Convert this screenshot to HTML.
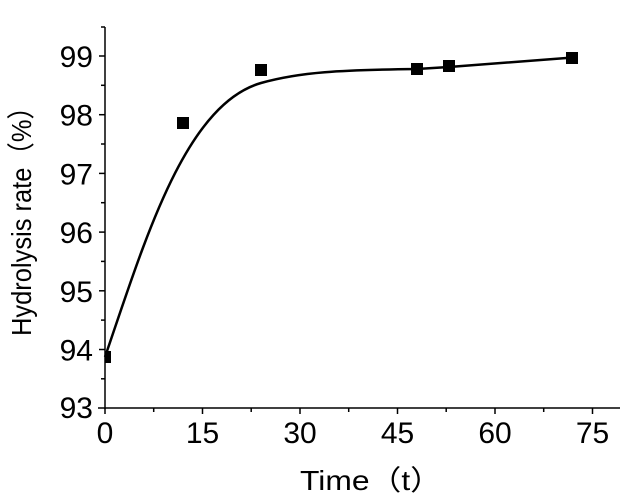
<!DOCTYPE html>
<html><head><style>body{margin:0;background:#fff}</style></head><body>
<svg width="621" height="498" xmlns="http://www.w3.org/2000/svg" font-family="Liberation Sans, Noto Sans CJK SC, sans-serif">
<g stroke="#000" stroke-width="1.5" fill="none">
<line x1="105" y1="27" x2="105" y2="409"/>
<line x1="98" y1="408" x2="620" y2="408"/>
<line x1="99" y1="56" x2="105" y2="56"/><line x1="99" y1="114.7" x2="105" y2="114.7"/><line x1="99" y1="173.4" x2="105" y2="173.4"/><line x1="99" y1="232.1" x2="105" y2="232.1"/><line x1="99" y1="290.8" x2="105" y2="290.8"/><line x1="99" y1="349.5" x2="105" y2="349.5"/>
<line x1="101" y1="27" x2="105" y2="27"/><line x1="101" y1="85.3" x2="105" y2="85.3"/><line x1="101" y1="144" x2="105" y2="144"/><line x1="101" y1="202.7" x2="105" y2="202.7"/><line x1="101" y1="261.4" x2="105" y2="261.4"/><line x1="101" y1="320.1" x2="105" y2="320.1"/><line x1="101" y1="378.8" x2="105" y2="378.8"/>
<line x1="105" y1="408" x2="105" y2="414"/><line x1="202.5" y1="408" x2="202.5" y2="414"/><line x1="300" y1="408" x2="300" y2="414"/><line x1="397.5" y1="408" x2="397.5" y2="414"/><line x1="495" y1="408" x2="495" y2="414"/><line x1="592.5" y1="408" x2="592.5" y2="414"/>
<line x1="153.7" y1="408" x2="153.7" y2="412"/><line x1="251.2" y1="408" x2="251.2" y2="412"/><line x1="348.7" y1="408" x2="348.7" y2="412"/><line x1="446.2" y1="408" x2="446.2" y2="412"/><line x1="543.7" y1="408" x2="543.7" y2="412"/>
<path d="M105,357 C145,240 185,105 261,83 C300,72 340,70 417,69 L449,67 L573,57.5" stroke-width="2.5"/>
</g>
<g fill="#000">
<rect x="105" y="351" width="6" height="12"/>
<rect x="177" y="117" width="12" height="12"/>
<rect x="255" y="64" width="12" height="12"/>
<rect x="411" y="63" width="12" height="12"/>
<rect x="443" y="60" width="12" height="12"/>
<rect x="566" y="52" width="12" height="12"/>
</g>
<g font-size="30" text-anchor="end">
<text x="93" y="67">99</text><text x="93" y="125.7">98</text><text x="93" y="184.4">97</text><text x="93" y="243.1">96</text><text x="93" y="301.8">95</text><text x="93" y="360.5">94</text><text x="93" y="418">93</text>
</g>
<g font-size="30" text-anchor="middle">
<text x="105" y="443">0</text><text x="202.5" y="443">15</text><text x="300" y="443">30</text><text x="397.5" y="443">45</text><text x="495" y="443">60</text><text x="592.5" y="443">75</text>
</g>
<g font-size="28">
<text x="300" y="490" textLength="142" lengthAdjust="spacingAndGlyphs">Time（t）</text>
<text transform="translate(31,336) rotate(-90)" textLength="242" lengthAdjust="spacingAndGlyphs">Hydrolysis rate（%）</text>
</g>
</svg>
</body></html>
